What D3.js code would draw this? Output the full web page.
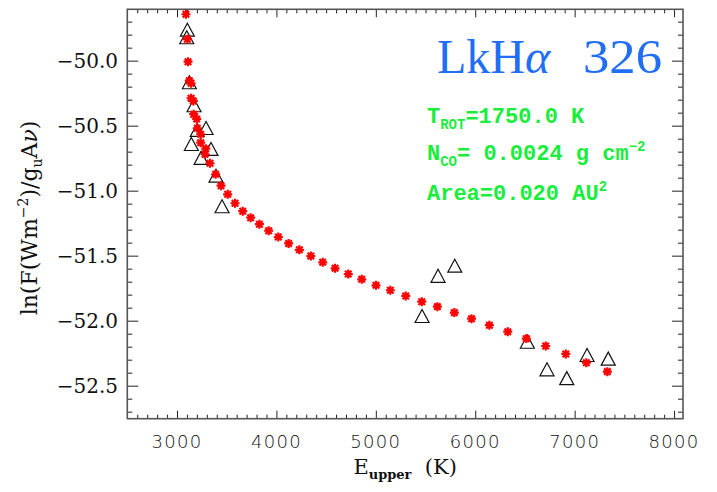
<!DOCTYPE html>
<html>
<head>
<meta charset="utf-8">
<script src="https://cdn.jsdelivr.net/npm/d3@7"></script>
<style>
  html, body { margin: 0; padding: 0; background: #fff; }
  svg { display: block; }
  text { white-space: pre; }
</style>
</head>
<body>
<script>
// ---- data ----
const modelEnergy = [3090, 3104, 3111, 3124, 3141, 3141, 3164, 3168, 3198, 3204, 3238, 3238, 3289, 3282, 3332, 3389, 3443, 3510, 3584, 3661, 3741, 3829, 3922, 4019, 4123, 4231, 4346, 4466, 4590, 4723, 4858, 5002, 5146, 5301, 5462, 5619, 5790, 5963, 6142, 6327, 6514, 6709, 6911, 7118, 7329];
const modelLn = [-49.643, -49.835, -50.008, -50.154, -50.174, -50.289, -50.310, -50.412, -50.448, -50.520, -50.566, -50.631, -50.677, -50.720, -50.789, -50.874, -50.962, -51.028, -51.097, -51.158, -51.208, -51.258, -51.308, -51.357, -51.406, -51.455, -51.503, -51.551, -51.597, -51.641, -51.682, -51.728, -51.766, -51.810, -51.854, -51.892, -51.938, -51.985, -52.035, -52.085, -52.138, -52.195, -52.256, -52.323, -52.392];
const obsEnergy = [3104, 3098, 3124, 3171, 3292, 3204, 3144, 3342, 3242, 3392, 3453, 5465, 5626, 5794, 6524, 6722, 6921, 7125, 7338];
const obsLn = [-49.762, -49.820, -50.166, -50.343, -50.518, -50.533, -50.641, -50.679, -50.748, -50.885, -51.120, -51.964, -51.655, -51.577, -52.162, -52.374, -52.442, -52.264, -52.292];
const xDomain = [2500, 8090];
const yDomain = [-52.754, -49.605];
const xMajorTicks = [3000, 4000, 5000, 6000, 7000, 8000];
const yMajorTicks = [-50.0, -50.5, -51.0, -51.5, -52.0, -52.5];
const titleText = "LkH";
const titleNumber = "326";
const fitLabels = { trot: "1750.0 K", nco: "0.0024 g cm", area: "0.020 AU" };

// ---- layout ----
const W = 717, H = 492;
const L = 127.3, R = 683, T = 9.3, B = 418.7;

const svg = d3.select("body").append("svg").attr("width", W).attr("height", H);

const x = d3.scaleLinear().domain(xDomain).range([L, R]);
const y = d3.scaleLinear().domain(yDomain).range([B, T]);

const xMinor = d3.range(2600, 8090, 100).filter(v => v % 1000 !== 0);
const yMinor = d3.range(-527, -496, 1).map(v => v / 10).filter(v => Math.abs(v * 2 - Math.round(v * 2)) > 1e-6);

function tickAxis(axisGen, values, size, transform) {
  const g = svg.append("g").attr("transform", transform)
    .call(axisGen.tickValues(values).tickSize(size).tickFormat(""));
  g.select(".domain").remove();
  g.selectAll(".tick line").attr("stroke", "#222").attr("stroke-width", 1);
  return g;
}
// bottom
tickAxis(d3.axisBottom(x), xMajorTicks, -8, `translate(0,${B})`);
tickAxis(d3.axisBottom(x), xMinor, -4, `translate(0,${B})`);
// top
tickAxis(d3.axisTop(x), xMajorTicks, -8, `translate(0,${T})`);
tickAxis(d3.axisTop(x), xMinor, -4, `translate(0,${T})`);
// left
tickAxis(d3.axisLeft(y), yMajorTicks, -11, `translate(${L},0)`);
tickAxis(d3.axisLeft(y), yMinor, -5, `translate(${L},0)`);
// right
tickAxis(d3.axisRight(y), yMajorTicks, -11, `translate(${R},0)`);
tickAxis(d3.axisRight(y), yMinor, -5, `translate(${R},0)`);

// frame
svg.append("rect").attr("x", L).attr("y", T).attr("width", R - L).attr("height", B - T)
  .attr("fill", "none").attr("stroke", "#555").attr("stroke-width", 1.6);

// x tick labels
svg.append("g").selectAll("text").data(xMajorTicks).join("text")
  .attr("x", d => x(d)).attr("y", 448)
  .attr("text-anchor", "middle")
  .attr("font-family", "DejaVu Sans").attr("font-weight", 200)
  .attr("font-size", 18).attr("letter-spacing", 1.3)
  .attr("fill", "#111")
  .text(d => d);

// y tick labels
const fmtY = d3.format(".1f");
svg.append("g").selectAll("text").data(yMajorTicks).join("text")
  .attr("x", 118).attr("y", d => y(d)).attr("dy", "0.36em")
  .attr("text-anchor", "end")
  .attr("font-family", "DejaVu Serif")
  .attr("font-size", 20).attr("fill", "#111")
  .text(d => fmtY(d));

// x title
const xt = svg.append("text").attr("x", (L + R) / 2).attr("y", 474)
  .attr("text-anchor", "middle").attr("font-family", "DejaVu Serif")
  .attr("font-size", 21).attr("fill", "#111");
xt.append("tspan").text("E");
xt.append("tspan").attr("font-size", 13).attr("font-weight", "bold").attr("dy", 5).text("upper");
xt.append("tspan").attr("dy", -5).text("  (K)");

// y title
const yt = svg.append("text")
  .attr("transform", `translate(37,${(T + B) / 2 + 4}) rotate(-90)`)
  .attr("text-anchor", "middle").attr("font-family", "DejaVu Serif")
  .attr("font-size", 22).attr("fill", "#111");
yt.append("tspan").text("ln(F(Wm");
yt.append("tspan").attr("font-size", 14).attr("dy", -9).text("−2");
yt.append("tspan").attr("dy", 9).text(")/g");
yt.append("tspan").attr("font-size", 14).attr("dy", 5).text("u");
yt.append("tspan").attr("dy", -5).text("A");
yt.append("tspan").attr("font-style", "italic").text("ν");
yt.append("tspan").text(")");

// title
const tt = svg.append("text").attr("x", 437).attr("y", 73)
  .attr("font-family", "Liberation Serif").attr("font-size", 48).attr("fill", "#1f6ef5");
tt.append("tspan").text(titleText);
tt.append("tspan").attr("font-style", "italic").text("α");
svg.append("text").attr("x", 583).attr("y", 73)
  .attr("font-family", "Liberation Serif").attr("font-size", 48).attr("fill", "#1f6ef5")
  .attr("textLength", 79).attr("lengthAdjust", "spacingAndGlyphs")
  .text(titleNumber);

// fit annotation
const green = "#1aee3c";
function gtext(yy) {
  return svg.append("text").attr("x", 427).attr("y", yy)
    .attr("font-family", "Liberation Mono").attr("font-weight", "bold")
    .attr("font-size", 22).attr("fill", green);
}
const t1 = gtext(123);
t1.append("tspan").text("T");
t1.append("tspan").attr("font-size", 14).attr("dy", 6).text("ROT");
t1.append("tspan").attr("dy", -6).text("=" + fitLabels.trot);
const t2 = gtext(160);
t2.append("tspan").text("N");
t2.append("tspan").attr("font-size", 14).attr("dy", 6).text("CO");
t2.append("tspan").attr("dy", -6).text("= " + fitLabels.nco);
t2.append("tspan").attr("font-size", 14).attr("dy", -9).text("−2");
const t3 = gtext(200);
t3.append("tspan").text("Area=" + fitLabels.area);
t3.append("tspan").attr("font-size", 14).attr("dy", -9).text("2");

// markers
const triangle = {
  draw(ctx, size) {
    const r = Math.sqrt(size) / 2;
    ctx.moveTo(-r, r * 0.93);
    ctx.lineTo(0, -r * 0.93);
    ctx.lineTo(r, r * 0.93);
    ctx.closePath();
  }
};
const star = {
  draw(ctx, size) {
    const r = Math.sqrt(size) / 2;
    const d = r * 0.72;
    ctx.moveTo(-r, 0); ctx.lineTo(r, 0);
    ctx.moveTo(0, -r); ctx.lineTo(0, r);
    ctx.moveTo(-d, -d); ctx.lineTo(d, d);
    ctx.moveTo(-d, d); ctx.lineTo(d, -d);
  }
};

const obs = obsEnergy.map((e, i) => ({ e, v: obsLn[i] }));
const model = modelEnergy.map((e, i) => ({ e, v: modelLn[i] }));

svg.append("g").selectAll("path").data(obs).join("path")
  .attr("transform", d => `translate(${x(d.e)},${y(d.v)})`)
  .attr("d", d3.symbol(triangle, 196))
  .attr("fill", "none").attr("stroke", "#111").attr("stroke-width", 1.2);

svg.append("g").selectAll("path").data(model).join("path")
  .attr("transform", d => `translate(${x(d.e)},${y(d.v)})`)
  .attr("d", d3.symbol(star, 81))
  .attr("fill", "none").attr("stroke", "#ff0000").attr("stroke-width", 2.2);
</script>
</body>
</html>
